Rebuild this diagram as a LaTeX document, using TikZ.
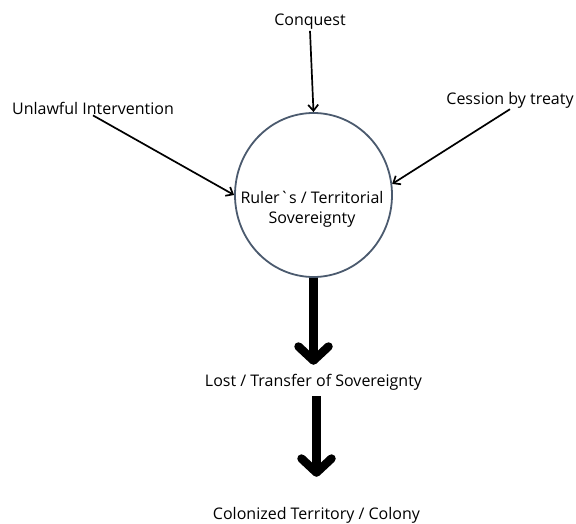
\documentclass[tikz,border=0pt]{standalone}
\usepackage{fontspec}
\setmainfont{Open Sans}
\usetikzlibrary{arrows.meta,shapes.geometric}
\definecolor{rimblue}{HTML}{4B5A6E}
\tikzset{
	label text/.style={font=\fontsize{16}{20}\selectfont, inner sep=1pt, align=center},
	thin arrow/.style={-{Straight Barb[length=6pt,width=10pt]}, line width=1.7pt},
	fat arrow/.style={-{Straight Barb[round,length=14pt,width=30pt]}, line width=8.5pt}
}
\begin{document}
\begin{tikzpicture}[x=1pt,y=-1pt]
	\useasboundingbox (0,0) rectangle (576,524);
	\node[ellipse, draw=rimblue, line width=1.8pt, minimum width=157pt, minimum height=164pt] (ruler) at (313.5,195) {};
	\node[label text] (rulertext) at (312,209) {Ruler\textasciigrave s / Territorial\\Sovereignty};
	\node[label text] (conquest) at (310,22) {Conquest};
	\node[label text] (unlawful) at (93,108) {Unlawful Intervention};
	\node[label text] (cession) at (510,100) {Cession by treaty};
	\node[label text] (lost) at (313.5,382) {Lost / Transfer of Sovereignty};
	\node[label text] (colony) at (316.5,515) {Colonized Territory / Colony};
	\draw[thin arrow] (conquest.south) -- (ruler.north);
	\draw[thin arrow] (unlawful.south) -- (ruler.west);
	\draw[thin arrow] (cession.south) -- (ruler.8);
	\draw[fat arrow] (ruler.south) -- ([yshift=8pt]lost.north);
	\draw[fat arrow] ([xshift=3pt,yshift=-5pt]lost.south) -- ([yshift=29pt]colony.north);
\end{tikzpicture}
\end{document}
